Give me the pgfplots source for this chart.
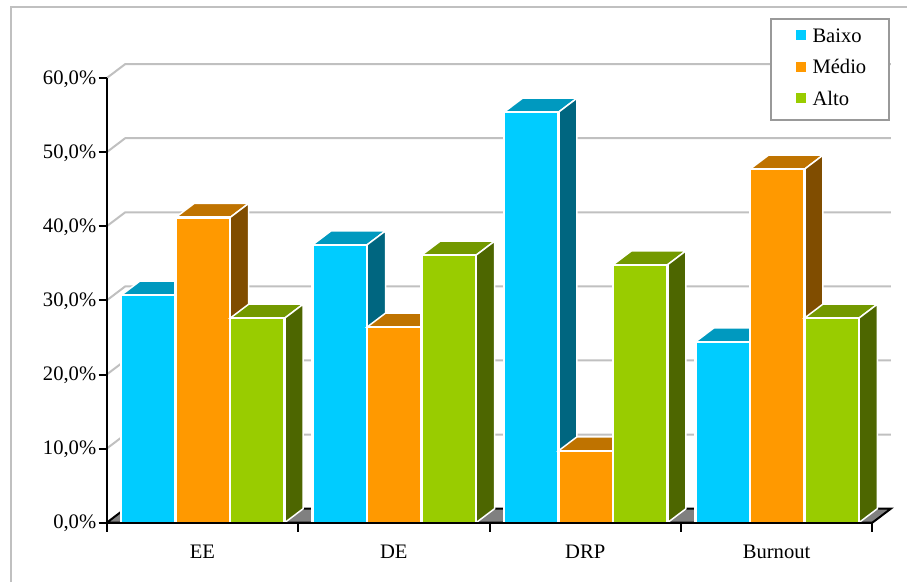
\documentclass[border=0pt]{standalone}
\usepackage{fontspec}
\setmainfont{Liberation Serif}
\usepackage{pgfplots}
\pgfplotsset{compat=1.18}
\definecolor{cb}{HTML}{00CCFF}\definecolor{cbt}{HTML}{0099BF}\definecolor{cbs}{HTML}{006680}
\definecolor{co}{HTML}{FF9900}\definecolor{cot}{HTML}{BF7300}\definecolor{cos}{HTML}{804D00}
\definecolor{cg}{HTML}{99CC00}\definecolor{cgt}{HTML}{739900}\definecolor{cgs}{HTML}{4D6600}
\definecolor{gridc}{HTML}{C0C0C0}
\newcommand\dxx{0.0967}
\newcommand\dyy{1.89}
\newcommand\tdbar[4]{% group, slot, value, colour prefix
  \pgfmathsetmacro\xa{#1+0.0757+#2*0.2847}%
  \pgfmathsetmacro\xb{\xa+0.2847}%
  \pgfmathsetmacro\xc{\xa+\dxx}%
  \pgfmathsetmacro\xd{\xb+\dxx}%
  \pgfmathsetmacro\yt{#3+\dyy}%
  \addplot[forget plot,fill=#4t,draw=white,line width=1.5pt] coordinates {(\xa,#3) (\xc,\yt) (\xd,\yt) (\xb,#3)} -- cycle;
  \addplot[forget plot,fill=#4s,draw=white,line width=1.5pt] coordinates {(\xb,0) (\xd,\dyy) (\xd,\yt) (\xb,#3)} -- cycle;
  \addplot[forget plot,fill=#4,draw=white,line width=2.4pt] coordinates {(\xa,0) (\xa,#3) (\xb,#3) (\xb,0)} -- cycle;
}
\newcommand\gridl[2]{\addplot[forget plot,gridc,line width=2pt,line join=bevel] coordinates {(0,#1) (\dxx,#2) (4.0967,#2)};}
\newcommand\legtext[1]{\raisebox{2pt}[\height][\depth]{#1}}
\begin{document}
\begin{tikzpicture}
\path[use as bounding box] (-106.7pt,-59.3pt) rectangle (800.3pt,522.7pt);
\draw[gridc,line width=2pt] (-96pt,-59.3pt) -- (-96pt,515.4pt) -- (800.3pt,515.4pt);
\begin{axis}[
  scale only axis, width=765.6pt, height=444.6pt,
  xmin=0, xmax=4, ymin=0, ymax=60,
  clip=false, axis on top=true,
  axis x line*=bottom, axis y line*=left,
  axis line style={-,black,line width=2pt},
  font=\fontsize{20.6}{24}\selectfont,
  xtick={0.5,1.5,2.5,3.5},
  xticklabels={EE,DE,DRP,Burnout},
  minor xtick={0,1,2,3,4},
  ytick={0,10,20,30,40,50,60},
  yticklabels={{0,0\%},{10,0\%},{20,0\%},{30,0\%},{40,0\%},{50,0\%},{60,0\%}},
  major tick length=8pt, minor tick length=9pt,
  tick align=outside,
  y tick style={black,line width=2pt},
  major x tick style={draw=none},
  minor x tick style={black,line width=2pt},
  y tick label style={xshift=1pt,yshift=-1pt},
  x tick label style={yshift=-11pt},
  legend style={at={(axis cs:3.4655,68.05)},anchor=north west,draw=black!40,line width=2pt,
     fill=white,inner xsep=21.5pt,inner ysep=10pt,row sep=14pt,
     nodes={inner sep=1pt,yshift=2pt,font=\fontsize{20.6}{24}\selectfont}},
  legend cell align=left,
]
\addplot[forget plot,fill=gray,draw=black,line width=2pt] coordinates {(0,0) (\dxx,\dyy) (4.0967,\dyy) (4,0)} -- cycle;
\gridl{10}{11.89}\gridl{20}{21.89}\gridl{30}{31.89}\gridl{40}{41.89}\gridl{50}{51.89}\gridl{60}{61.89}
\tdbar{0}{0}{30.7}{cb}\tdbar{0}{1}{41.2}{co}\tdbar{0}{2}{27.6}{cg}
\tdbar{1}{0}{37.5}{cb}\tdbar{1}{1}{26.4}{co}\tdbar{1}{2}{36.1}{cg}
\tdbar{2}{0}{55.4}{cb}\tdbar{2}{1}{9.7}{co}\tdbar{2}{2}{34.8}{cg}
\tdbar{3}{0}{24.4}{cb}\tdbar{3}{1}{47.7}{co}\tdbar{3}{2}{27.6}{cg}
\addlegendimage{legend image code/.code={\path[draw=none,fill=none] (-3pt,-3pt) rectangle (16pt,7pt);\pgfinterruptboundingbox\path[draw=none,fill=cb] (0pt,0pt) rectangle (10pt,10pt);\endpgfinterruptboundingbox}}
\addlegendentry{\legtext{Baixo}}
\addlegendimage{legend image code/.code={\path[draw=none,fill=none] (-3pt,-3pt) rectangle (16pt,7pt);\pgfinterruptboundingbox\path[draw=none,fill=co] (0pt,0pt) rectangle (10pt,10pt);\endpgfinterruptboundingbox}}
\addlegendentry{\legtext{Médio}}
\addlegendimage{legend image code/.code={\path[draw=none,fill=none] (-3pt,-3pt) rectangle (16pt,7pt);\pgfinterruptboundingbox\path[draw=none,fill=cg] (0pt,0pt) rectangle (10pt,10pt);\endpgfinterruptboundingbox}}
\addlegendentry{\legtext{Alto}}
\end{axis}
\end{tikzpicture}
\end{document}
